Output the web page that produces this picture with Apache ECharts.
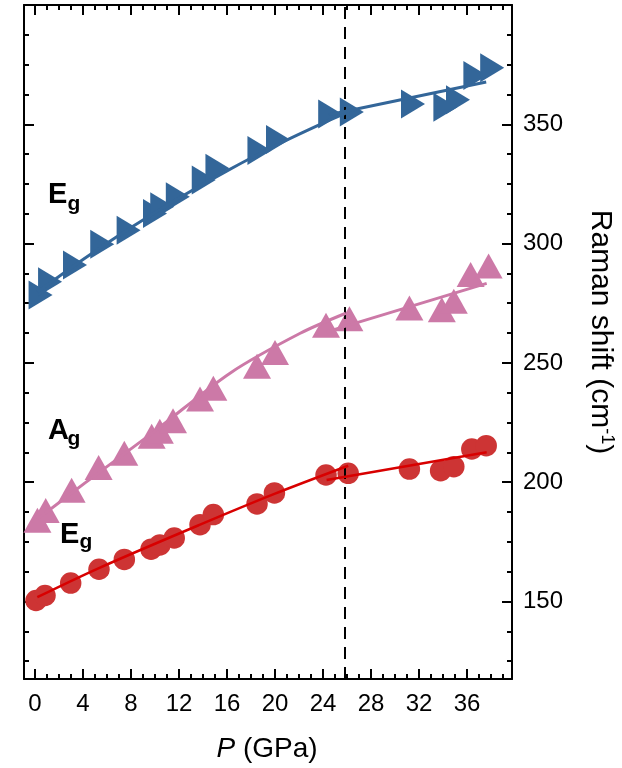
<!DOCTYPE html>
<html>
<head>
<meta charset="utf-8">
<script src="https://cdn.jsdelivr.net/npm/echarts@6/dist/echarts.min.js"></script>
<style>html,body{margin:0;padding:0;background:#fff}#c{width:622px;height:768px}</style>
</head>
<body>
<div id="c"></div>
<script>
// ---- data ----
var blueP = [0.46, 1.25, 3.33, 5.6, 7.8, 10.0, 10.6, 11.9, 14.06, 15.2, 18.7, 20.25, 24.6, 26.4, 31.5, 34.2, 35.25, 36.7, 38.1];
var blueV = [278.5, 284, 291, 299.7, 305.6, 312.6, 315.4, 319.6, 326.6, 331.6, 339, 343.6, 354.3, 355.1, 358.5, 357.1, 360.3, 370.4, 373.7];
var pinkP = [0.2, 0.89, 3.05, 5.3, 7.44, 9.72, 10.4, 11.5, 13.75, 14.86, 18.5, 20.0, 24.25, 26.2, 31.2, 33.9, 34.9, 36.3, 37.8];
var pinkV = [184.0, 188.1, 196.6, 206.1, 212.1, 219.2, 221.3, 225.7, 234.9, 239.4, 248.6, 254.3, 265.8, 268.5, 273, 272.3, 275.8, 287, 290.6];
var redP = [0.08, 0.83, 2.97, 5.33, 7.44, 9.67, 10.4, 11.6, 13.75, 14.86, 18.5, 19.95, 24.25, 26.1, 31.2, 33.8, 34.9, 36.4, 37.6];
var redV = [150.4, 152.5, 157.7, 163.5, 167.6, 171.9, 173.7, 176.6, 182.2, 186.4, 190.9, 195.5, 203, 203.7, 205.5, 204.8, 206.5, 213.9, 215.3];

// fitted guide lines
var blueFit1P = [0.2, 4, 8, 12, 16, 20, 24, 26.2];
var blueFit1V = [279.7, 293.3, 306.7, 319.1, 330.5, 341.0, 350.5, 355.3];
var blueFit2P = [24.5, 37.6];
var blueFit2V = [354.0, 367.7];
var pinkFit1P = [0.2, 4.17, 10, 16.25, 22.1, 25.9];
var pinkFit1V = [184.5, 199.7, 221.5, 245.7, 262.4, 270.8];
var pinkFit2P = [24.3, 37.64];
var pinkFit2V = [263.0, 283.3];
var redFit1P = [0.19, 5.28, 13.75, 19.95, 26.1];
var redFit1V = [151.8, 163.9, 182.2, 195.1, 206.9];
var redFit2P = [24.3, 37.64];
var redFit2V = [200.9, 212.5];

var transitionP = 25.8;

var xMajor = [0, 4, 8, 12, 16, 20, 24, 28, 32, 36];
var xMinor = [0,1,2,3,4,5,6,7,8,9,10,11,12,13,14,15,16,17,18,19,20,21,22,23,24,25,26,27,28,29,30,31,32,33,34,35,36,37,38,39];
var yMajor = [150, 200, 250, 300, 350];
var yMinor = [125, 137.5, 150, 162.5, 175, 187.5, 200, 212.5, 225, 237.5, 250, 262.5, 275, 287.5, 300, 312.5, 325, 337.5, 350, 362.5, 375, 387.5];

var xTitle = ['P', ' (GPa)'];
var yTitle = ['Raman shift (cm', '-1', ')'];
var modeLabels = [['E', 'g'], ['A', 'g'], ['E', 'g']];

// ---- chart ----
var FONT = 'Liberation Sans, Arial, Helvetica, sans-serif';
var xMin = -0.92, xMax = 39.75, yMin = 117.5, yMax = 400;
var BLUE = '#336699', PINK = '#cc79a7', REDM = '#cd3434', REDL = '#d80000';

function pairs(a, b) { return a.map(function (v, i) { return [v, b[i]]; }); }

function xAx(pos, ticks, len, withLabel, withLine) {
  return {
    type: 'value', position: pos, min: xMin, max: xMax,
    axisLine: { show: withLine, onZero: false, lineStyle: { color: '#000', width: 2 } },
    axisTick: { show: true, inside: true, length: len, customValues: ticks, lineStyle: { color: '#000', width: 2 } },
    axisLabel: withLabel ? { show: true, customValues: xMajor, margin: 13, color: '#000', fontSize: 24, fontFamily: FONT } : { show: false },
    splitLine: { show: false }
  };
}
function yAx(pos, ticks, len, withLabel, withLine) {
  return {
    type: 'value', position: pos, min: yMin, max: yMax,
    axisLine: { show: withLine, onZero: false, lineStyle: { color: '#000', width: 2 } },
    axisTick: { show: true, inside: true, length: len, customValues: ticks, lineStyle: { color: '#000', width: 2 } },
    axisLabel: withLabel ? { show: true, customValues: yMajor, margin: 11, color: '#000', fontSize: 24, fontFamily: FONT } : { show: false },
    splitLine: { show: false }
  };
}

function fitSeries(P, V, color, w) {
  return { type: 'line', data: pairs(P, V), smooth: 0.3, showSymbol: false, symbol: 'none',
    lineStyle: { color: color, width: w }, z: 5, silent: true };
}

function labelEls(txt, x, yBig, ySmall) {
  return [
    { type: 'text', x: x, y: yBig, style: { text: txt[0], font: 'bold 29px ' + FONT, fill: '#000', verticalAlign: 'middle' } },
    { type: 'text', x: x + 19.5, y: ySmall, style: { text: txt[1], font: 'bold 21px ' + FONT, fill: '#000', verticalAlign: 'middle' } }
  ];
}

var chart = echarts.init(document.getElementById('c'), null, { renderer: 'canvas' });
chart.setOption({
  animation: false,
  backgroundColor: '#fff',
  grid: { left: 24, top: 5, width: 488, height: 674, containLabel: false },
  xAxis: [
    xAx('bottom', xMajor, 10, true, true),
    xAx('bottom', xMinor, 5, false, false),
    xAx('top', xMajor, 10, false, true),
    xAx('top', xMinor, 5, false, false)
  ],
  yAxis: [
    yAx('right', yMajor, 10, true, true),
    yAx('right', yMinor, 5, false, false),
    yAx('left', yMajor, 10, false, true),
    yAx('left', yMinor, 5, false, false)
  ],
  series: [
    { type: 'scatter', data: pairs(redP, redV), symbol: 'circle', symbolSize: 21.5, itemStyle: { color: REDM, opacity: 1 }, z: 3 },
    { type: 'scatter', data: pairs(pinkP, pinkV), symbol: 'triangle', symbolSize: [28, 25], itemStyle: { color: PINK, opacity: 1 }, z: 3 },
    { type: 'scatter', data: pairs(blueP, blueV), symbol: 'triangle', symbolSize: [29, 24], symbolRotate: -90, itemStyle: { color: BLUE, opacity: 1 }, z: 3 },
    fitSeries(redFit1P, redFit1V, REDL, 2.5),
    fitSeries(redFit2P, redFit2V, REDL, 2.5),
    fitSeries(pinkFit1P, pinkFit1V, PINK, 3),
    fitSeries(pinkFit2P, pinkFit2V, PINK, 3),
    fitSeries(blueFit1P, blueFit1V, BLUE, 3),
    fitSeries(blueFit2P, blueFit2V, BLUE, 3),
    { type: 'line', data: [], z: 10,
      markLine: { silent: true, symbol: 'none', label: { show: false },
        lineStyle: { color: '#000', width: 2, type: [12, 8] },
        data: [{ xAxis: transitionP }] } }
  ],
  graphic: [].concat(
    labelEls(modeLabels[0], 48, 194.5, 204.5),
    labelEls(modeLabels[1], 48, 431, 439.5),
    labelEls(modeLabels[2], 60, 535, 542.5),
    [
      { type: 'text', x: 267, y: 749, style: {
        text: '{i|' + xTitle[0] + '}{n|' + xTitle[1] + '}', align: 'center', verticalAlign: 'middle',
        rich: { i: { fontStyle: 'italic', fontSize: 28, fontFamily: FONT, fill: '#000', color: '#000' },
                n: { fontSize: 28, fontFamily: FONT, fill: '#000', color: '#000' } } } },
      { type: 'text', x: 600, y: 332, rotation: -Math.PI / 2, style: {
        text: '{n|' + yTitle[0] + '}{s|' + yTitle[1] + '}{n|' + yTitle[2] + '}', align: 'center', verticalAlign: 'middle',
        rich: { n: { fontSize: 30, lineHeight: 32, fontFamily: FONT, fill: '#000', color: '#000' },
                s: { fontSize: 18, lineHeight: 18, verticalAlign: 'top', fontFamily: FONT, fill: '#000', color: '#000' } } } }
    ]
  )
});
</script>
</body>
</html>
